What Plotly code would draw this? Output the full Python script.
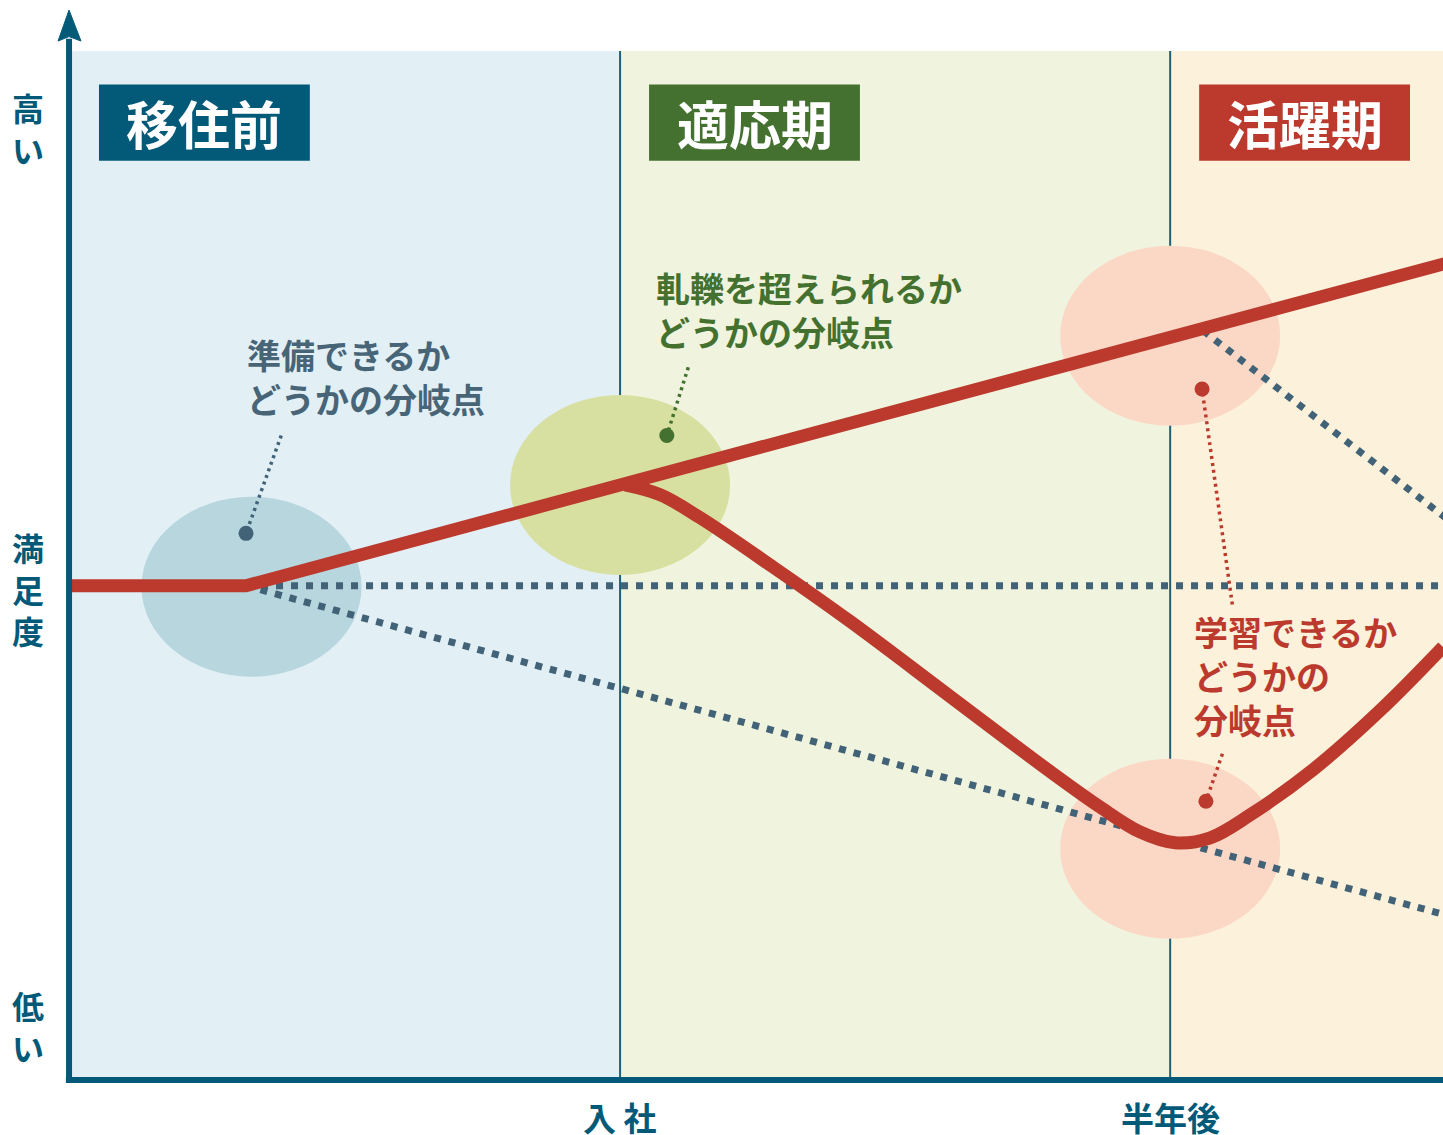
import plotly.graph_objects as go

# ---------------- data ----------------
phase_names = ["移住前", "適応期", "活躍期"]
phase_start = [0, 1, 2]
phase_end = [1, 2, 2.5]
milestone_x = [1, 2]
milestone_labels = ["入 社", "半年後"]
level_labels = ["高<br>い", "満<br>足<br>度", "低<br>い"]
level_pos = [0.925, 0.478, 0.0525]

# path that keeps rising
success_x = [0, 0.32, 1, 2, 2.5]
success_y = [5, 5, 6.02, 7.51, 8.26]

# path that dips after joining and recovers
dip_x = [1.009, 1.073, 1.145, 1.278, 1.418, 1.600, 1.782, 1.873, 1.945, 2.009, 2.073, 2.145, 2.260, 2.382, 2.496]
dip_y = [6.02, 5.92, 5.69, 5.19, 4.64, 3.88, 3.12, 2.76, 2.51, 2.40, 2.45, 2.68, 3.14, 3.74, 4.38]

# dotted alternatives
flat_x = [0.32, 2.5]
flat_y = [5, 5]
decline_x = [0.32, 1, 2, 2.5]
decline_y = [5, 3.96, 2.43, 1.67]
dropoff_x = [2.06, 2.5]
dropoff_y = [7.58, 5.69]

# turning points (ellipse centres)
turn_x = [0.33, 1.0, 2.0, 2.0]
turn_y = [4.99, 6.02, 7.53, 2.34]

# callouts
callout_text = ["準備できるか<br>どうかの分岐点",
                "軋轢を超えられるか<br>どうかの分岐点",
                "学習できるか<br>どうかの<br>分岐点"]
callout_x = [0.319, 1.061, 2.039]
callout_y = [7.12, 7.79, 4.09]
leader_x = [[0.384, 0.320], [1.124, 1.085], [2.113, 2.058], [2.095, 2.065]]
leader_y = [[6.52, 5.53], [7.21, 6.52], [4.81, 6.99], [3.30, 2.82]]

# ---------------- styles ----------------
TEAL = "#035a78"
GREEN = "#44712f"
RED = "#bb3a2d"
SLATE = "#426277"
BG = ["#e2eff5", "#f0f4de", "#fcf1da"]
BOX = [TEAL, GREEN, RED]
ELLIPSE = ["#b8d6de", "#d8e0a1", "#fbd8c6", "#fbd8c6"]
CALLOUT_COLOR = ["#476577", GREEN, RED]
LEADER_COLOR = [SLATE, GREEN, RED, RED]
FONT = "Noto Sans CJK JP"
RX, RY = 0.2, 0.91

fig = go.Figure()

# dotted paths
for xs, ys in [(flat_x, flat_y), (decline_x, decline_y), (dropoff_x, dropoff_y)]:
    fig.add_trace(go.Scatter(x=xs, y=ys, mode="lines",
                             line=dict(color=SLATE, width=7, dash="7px,8px"),
                             hoverinfo="skip", showlegend=False))

# red paths
fig.add_trace(go.Scatter(x=dip_x, y=dip_y, mode="lines",
                         line=dict(color=RED, width=13, shape="spline", smoothing=1.0),
                         hoverinfo="skip", showlegend=False))
fig.add_trace(go.Scatter(x=success_x, y=success_y, mode="lines",
                         line=dict(color=RED, width=13),
                         hoverinfo="skip", showlegend=False))

# leader lines with end dots
for lx, ly, c in zip(leader_x, leader_y, LEADER_COLOR):
    fig.add_trace(go.Scatter(x=lx, y=ly, mode="lines",
                             line=dict(color=c, width=3.5, dash="3px,4px"),
                             hoverinfo="skip", showlegend=False))
    fig.add_trace(go.Scatter(x=[lx[-1]], y=[ly[-1]], mode="markers",
                             marker=dict(color=c, size=15, line=dict(width=0)),
                             hoverinfo="skip", showlegend=False))

shapes = []
# phase backgrounds
for s, e, c in zip(phase_start, phase_end, BG):
    shapes.append(dict(type="rect", xref="x", yref="paper", x0=s, x1=e, y0=0, y1=1,
                       fillcolor=c, line=dict(width=0), layer="below"))
# ellipses
for cx, cy, c in zip(turn_x, turn_y, ELLIPSE):
    shapes.append(dict(type="circle", xref="x", yref="y", x0=cx - RX, x1=cx + RX,
                       y0=cy - RY, y1=cy + RY, fillcolor=c, line=dict(width=0), layer="below"))
# milestone lines
for m in milestone_x:
    shapes.append(dict(type="line", xref="x", yref="paper", x0=m, x1=m, y0=0, y1=1,
                       line=dict(color="#1d6078", width=2), layer="below"))
# phase boxes
for s, c in zip(phase_start, BOX):
    shapes.append(dict(type="rect", xref="x", yref="y", x0=s + 0.0527, x1=s + 0.436,
                       y0=9.30, y1=10.07, fillcolor=c, line=dict(width=0), layer="above"))
# axes
shapes.append(dict(type="line", xref="paper", yref="paper", x0=-0.0007, x1=-0.0007,
                   y0=-0.0029, y1=1.012, line=dict(color=TEAL, width=6), layer="above"))
shapes.append(dict(type="line", xref="paper", yref="paper", x0=-0.003, x1=1.0,
                   y0=0, y1=0, line=dict(color=TEAL, width=6), layer="above"))
shapes.append(dict(type="path", xref="paper", yref="paper",
                   path="M -0.0007 1.0398 L 0.0080 1.0097 L -0.0007 1.0140 L -0.0087 1.0097 Z",
                   fillcolor=TEAL, line=dict(color=TEAL, width=1), layer="above"))

annotations = []
for s, name in zip(phase_start, phase_names):
    annotations.append(dict(x=s + 0.2445, y=9.69, xref="x", yref="y", text="<b>%s</b>" % name,
                            showarrow=False, xanchor="center", yanchor="middle",
                            font=dict(family=FONT, size=52, color="white")))
for t, x, y, c in zip(callout_text, callout_x, callout_y, CALLOUT_COLOR):
    annotations.append(dict(x=x, y=y, xref="x", yref="y", text="<b>%s</b>" % t,
                            showarrow=False, xanchor="left", yanchor="middle", align="left",
                            font=dict(family=FONT, size=34, color=c)))
for m, lab in zip(milestone_x, milestone_labels):
    annotations.append(dict(x=m, y=-0.0355, xref="x", yref="paper", text="<b>%s</b>" % lab,
                            showarrow=False, xanchor="center", yanchor="middle", borderpad=0,
                            font=dict(family=FONT, size=33, color=TEAL)))
for lab, p in zip(level_labels, level_pos):
    annotations.append(dict(x=-0.0306, y=p, xref="paper", yref="paper", text="<b>%s</b>" % lab,
                            showarrow=False, xanchor="center", yanchor="middle",
                            font=dict(family=FONT, size=32, color=TEAL)))

fig.update_layout(
    width=1443, height=1135,
    margin=dict(l=70, r=0, t=51, b=55),
    paper_bgcolor="white", plot_bgcolor="white",
    xaxis=dict(range=[0, 2.496], visible=False, fixedrange=True),
    yaxis=dict(range=[0, 10.41], visible=False, fixedrange=True),
    shapes=shapes, annotations=annotations,
    showlegend=False,
    font=dict(family=FONT),
)

fig.write_html("out.html", config={"displayModeBar": False})
